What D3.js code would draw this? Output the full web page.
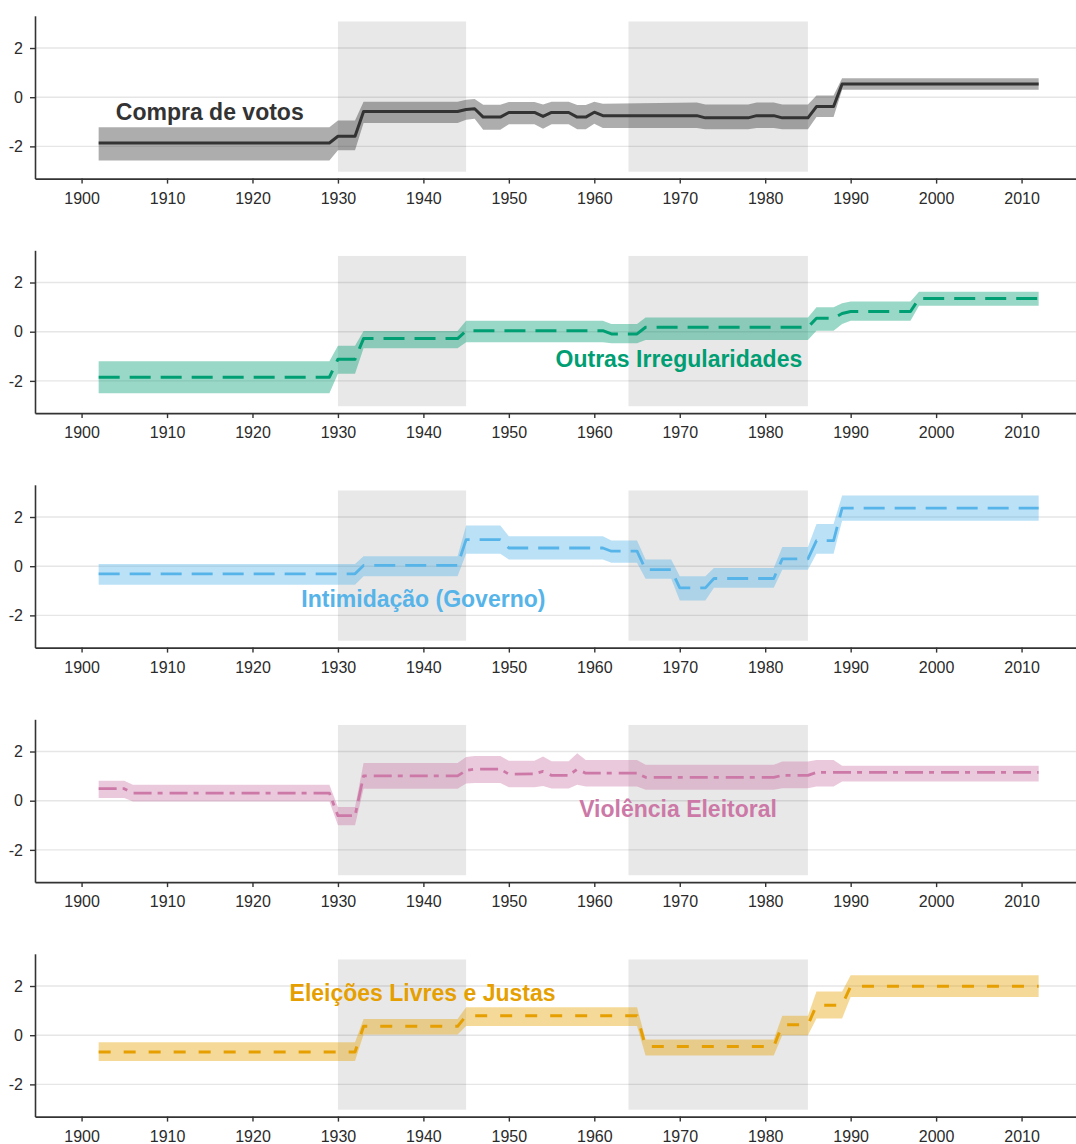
<!DOCTYPE html>
<html><head><meta charset="utf-8">
<script src="https://cdn.jsdelivr.net/npm/d3@7/dist/d3.min.js"></script>
<style>body{margin:0;background:#fff}svg{display:block}</style>
</head><body>
<svg id="chart" width="1076" height="1144"></svg>
<script>
// ---------- data ----------
const seriesLabels = ["Compra de votos", "Outras Irregularidades", "Intimidação (Governo)", "Violência Eleitoral", "Eleições Livres e Justas"];
const xTickLabels = [1900, 1910, 1920, 1930, 1940, 1950, 1960, 1970, 1980, 1990, 2000, 2010];
const yTickLabels = [-2, 0, 2];
const shadeStart = [1930, 1964];
const shadeEnd = [1945, 1985];

const compraYears = [1902,1929,1930,1932,1933,1944,1945,1946,1947,1949,1950,1953,1954,1955,1957,1958,1959,1960,1961,1972,1973,1978,1979,1981,1982,1985,1986,1988,1989,2012];
const compraMean  = [-1.86,-1.86,-1.59,-1.59,-0.58,-0.58,-0.50,-0.47,-0.81,-0.81,-0.62,-0.62,-0.78,-0.62,-0.62,-0.81,-0.81,-0.61,-0.75,-0.75,-0.84,-0.84,-0.75,-0.75,-0.84,-0.84,-0.38,-0.38,0.54,0.54];
const compraLo    = [-2.57,-2.57,-2.16,-2.16,-1.05,-1.05,-0.92,-0.88,-1.32,-1.32,-1.10,-1.10,-1.28,-1.10,-1.10,-1.30,-1.30,-1.08,-1.25,-1.25,-1.30,-1.30,-1.25,-1.25,-1.30,-1.30,-0.81,-0.81,0.30,0.30];
const compraHi    = [-1.22,-1.22,-0.95,-0.95,-0.18,-0.18,-0.10,-0.07,-0.31,-0.31,-0.20,-0.20,-0.30,-0.18,-0.18,-0.32,-0.32,-0.18,-0.27,-0.22,-0.30,-0.30,-0.22,-0.22,-0.30,-0.30,0.07,0.07,0.77,0.77];

const outrasYears = [1902,1929,1930,1932,1933,1944,1945,1961,1962,1965,1966,1985,1986,1988,1989,1990,1997,1998,2012];
const outrasMean  = [-1.85,-1.85,-1.12,-1.12,-0.28,-0.28,0.04,0.04,-0.09,-0.09,0.18,0.18,0.55,0.55,0.74,0.82,0.82,1.35,1.35];
const outrasLo    = [-2.50,-2.50,-1.71,-1.71,-0.67,-0.67,-0.43,-0.43,-0.47,-0.47,-0.34,-0.34,0.04,0.04,0.31,0.45,0.45,1.06,1.06];
const outrasHi    = [-1.20,-1.20,-0.57,-0.57,0.03,0.03,0.45,0.45,0.31,0.31,0.58,0.58,0.99,0.99,1.16,1.23,1.23,1.62,1.62];

const intimYears = [1902,1932,1933,1944,1945,1949,1950,1961,1962,1965,1966,1969,1970,1973,1974,1981,1982,1985,1986,1988,1989,2012];
const intimMean  = [-0.31,-0.31,0.03,0.03,1.08,1.08,0.74,0.74,0.61,0.61,-0.14,-0.14,-0.88,-0.88,-0.50,-0.50,0.30,0.30,1.04,1.04,2.36,2.36];
const intimLo    = [-0.75,-0.75,-0.41,-0.41,0.51,0.51,0.27,0.27,0.14,0.14,-0.51,-0.51,-1.39,-1.39,-0.88,-0.88,-0.14,-0.14,0.51,0.51,1.85,1.85];
const intimHi    = [0.09,0.09,0.40,0.40,1.65,1.65,1.22,1.22,1.05,1.05,0.27,0.27,-0.41,-0.41,-0.07,-0.07,0.78,0.78,1.72,1.72,2.88,2.88];

const violYears = [1902,1905,1906,1929,1930,1932,1933,1944,1945,1946,1949,1950,1953,1954,1955,1957,1958,1959,1965,1966,1981,1982,1985,1986,1988,1989,2012];
const violMean  = [0.49,0.49,0.31,0.31,-0.61,-0.61,1.01,1.01,1.23,1.28,1.28,1.08,1.09,1.19,1.03,1.03,1.28,1.12,1.12,0.95,0.95,1.03,1.03,1.15,1.15,1.15,1.15];
const violLo    = [0.11,0.11,-0.03,-0.03,-1.00,-1.00,0.49,0.49,0.70,0.72,0.72,0.55,0.55,0.60,0.50,0.50,0.65,0.58,0.58,0.45,0.45,0.51,0.51,0.58,0.58,0.78,0.78];
const violHi    = [0.81,0.81,0.65,0.65,-0.26,-0.26,1.53,1.53,1.78,1.82,1.82,1.62,1.62,1.80,1.60,1.60,1.93,1.66,1.66,1.46,1.46,1.59,1.59,1.66,1.66,1.42,1.42];

const eleicYears = [1902,1932,1933,1944,1945,1965,1966,1981,1982,1985,1986,1989,1990,2012];
const eleicMean  = [-0.68,-0.68,0.36,0.36,0.79,0.79,-0.46,-0.46,0.42,0.42,1.22,1.22,1.99,1.99];
const eleicLo    = [-1.05,-1.05,0.03,0.03,0.37,0.37,-0.83,-0.83,0.00,0.00,0.68,0.68,1.55,1.55];
const eleicHi    = [-0.29,-0.29,0.66,0.66,1.14,1.14,-0.17,-0.17,0.79,0.79,1.78,1.78,2.44,2.44];

const seriesYears = [compraYears, outrasYears, intimYears, violYears, eleicYears];
const seriesMean  = [compraMean, outrasMean, intimMean, violMean, eleicMean];
const seriesLo    = [compraLo, outrasLo, intimLo, violLo, eleicLo];
const seriesHi    = [compraHi, outrasHi, intimHi, violHi, eleicHi];

// label anchor (year, value)
const labelYear  = [1915, 1969.9, 1940, 1969.8, 1939.9];
const labelValue = [-0.58, -1.11, -1.35, -0.32, 1.71];

// ---------- styles ----------
const colors = ["#333333", "#009E73", "#56B4E9", "#CC79A7", "#E69F00"];
const dashes = [null, "21,10", "21,10", "18,6,5,7", "12,13"];
const lineWidths = [3, 3, 2.8, 2.8, 3];

const svg = d3.select("#chart");
const W = 1076;
const x = d3.scaleLinear().domain([1894.55, 2016.37]).range([35, W]);
const panelZero0 = 97.2, panelStep = 234.5, halfH = 81.4;
const yDomain = [-3.31, 3.31];
const shadeLo = -3.03, shadeHi = 3.08;
const font = "'Liberation Sans', Arial, sans-serif";

seriesLabels.forEach((name, i) => {
  const zero = panelZero0 + i * panelStep;
  const y = d3.scaleLinear().domain(yDomain).range([zero + halfH, zero - halfH]);
  const g = svg.append("g");
  const data = seriesYears[i].map((yr, k) => ({yr, m: seriesMean[i][k], lo: seriesLo[i][k], hi: seriesHi[i][k]}));

  // gridlines
  g.selectAll("line.grid").data(yTickLabels).join("line")
    .attr("x1", x.range()[0]).attr("x2", x.range()[1])
    .attr("y1", d => y(d)).attr("y2", d => y(d))
    .attr("stroke", "#E6E6E6").attr("stroke-width", 1.4);

  // shaded periods
  g.selectAll("rect.shade").data(shadeStart.map((s, k) => [s, shadeEnd[k]])).join("rect")
    .attr("x", d => x(d[0])).attr("width", d => x(d[1]) - x(d[0]))
    .attr("y", y(shadeHi)).attr("height", y(shadeLo) - y(shadeHi))
    .attr("fill", "#000").attr("fill-opacity", 0.09);

  // ribbon
  g.append("path").datum(data)
    .attr("d", d3.area().x(d => x(d.yr)).y0(d => y(d.lo)).y1(d => y(d.hi)))
    .attr("fill", colors[i]).attr("fill-opacity", 0.4);

  // line
  g.append("path").datum(data)
    .attr("d", d3.line().x(d => x(d.yr)).y(d => y(d.m)))
    .attr("fill", "none").attr("stroke", colors[i]).attr("stroke-width", lineWidths[i])
    .attr("stroke-dasharray", dashes[i]).attr("stroke-linejoin", "round");

  // axes
  const xAxis = g.append("g").attr("transform", `translate(0,${zero + halfH})`)
    .call(d3.axisBottom(x).tickValues(xTickLabels).tickFormat(d => String(d)).tickSize(5).tickPadding(9).tickSizeOuter(0));
  const yAxis = g.append("g").attr("transform", `translate(${x.range()[0]},0)`)
    .call(d3.axisLeft(y).tickValues(yTickLabels).tickFormat(d => String(d)).tickSize(5).tickPadding(7).tickSizeOuter(0));
  [xAxis, yAxis].forEach(a => {
    a.select(".domain").attr("stroke", "#333").attr("stroke-width", 1.6);
    a.selectAll(".tick line").attr("stroke", "#333").attr("stroke-width", 1.4);
    a.selectAll(".tick text").attr("fill", "#2b2b2b").style("font-family", font).style("font-size", "16px");
  });

  // label
  g.append("text")
    .attr("x", x(labelYear[i])).attr("y", y(labelValue[i])).attr("dy", "0.35em")
    .attr("text-anchor", "middle")
    .style("font-family", font).style("font-weight", "bold").style("font-size", "23px")
    .attr("fill", colors[i]).text(name);
});
</script>
</body></html>
